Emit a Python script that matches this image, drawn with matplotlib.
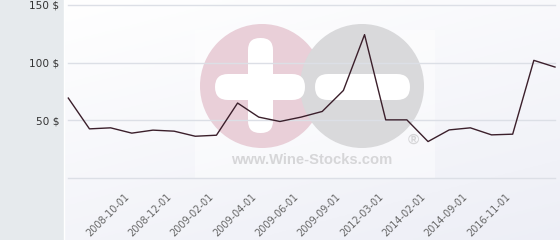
import numpy as np
import matplotlib
matplotlib.use('Agg')
import matplotlib.pyplot as plt
from matplotlib.patches import Circle, FancyBboxPatch, Rectangle
from matplotlib.transforms import ScaledTranslation

# price history (only some dates are labelled on the axis)
dates = ['2008-07-01', '2008-08-01', '2008-09-01', '2008-10-01', '2008-11-01',
         '2008-12-01', '2009-01-01', '2009-02-01', '2009-03-01', '2009-04-01',
         '2009-05-01', '2009-06-01', '2009-07-01', '2009-09-01', '2011-01-01',
         '2012-03-01', '2013-01-01', '2014-02-01', '2014-05-01', '2014-09-01',
         '2015-06-01', '2016-11-01', '2017-06-01', '2018-01-01']
prices = [69.3, 42.6, 43.5, 38.9, 41.5, 40.6, 36.2, 37.1, 65.0, 52.8,
          49.0, 52.8, 57.7, 75.9, 124.3, 50.4, 50.4, 31.6, 41.7, 43.5,
          37.4, 38.0, 102.0, 96.2]
shown_labels = ['2008-10-01', '2008-12-01', '2009-02-01', '2009-04-01', '2009-06-01',
                '2009-09-01', '2012-03-01', '2014-02-01', '2014-09-01', '2016-11-01']
y_ticks = [50, 100, 150]

W, H = 560, 240
fig = plt.figure(figsize=(W / 100, H / 100), dpi=100)
fig.patch.set_facecolor('white')

# background: light gradient + grey strip on the left
bg = fig.add_axes([0, 0, 1, 1])
bg.set_xlim(0, W)
bg.set_ylim(H, 0)
bg.axis('off')
gx = np.linspace(0, 1, 200)
gy = np.linspace(0, 1, 100)
grad = np.clip(0.35 * gx[None, :] + 0.65 * gy[:, None], 0, 1)
c0 = np.array([1.0, 1.0, 1.0])
c1 = np.array([0.93, 0.935, 0.965])
img = c0[None, None, :] * (1 - grad[..., None]) + c1[None, None, :] * grad[..., None]
bg.imshow(img, extent=[63, W, H, 0], aspect='auto', zorder=0)
bg.add_patch(Rectangle((0, 0), 63, H, color='#e6eaed', zorder=1))
bg.plot([63.5, 63.5], [0, H], color='white', lw=1, zorder=2)

# watermark
bg.add_patch(Rectangle((195, 30), 240, 148, color='white', alpha=0.45, lw=0, zorder=1))
bg.add_patch(Circle((262, 86), 62, color='#e9cfd8', lw=0, zorder=2))
bg.add_patch(Circle((362, 86), 62, color='#d9d9db', lw=0, zorder=3))
bg.add_patch(FancyBboxPatch((248, 38), 25, 95, boxstyle='round,pad=0,rounding_size=12',
                            color='white', lw=0, zorder=4))
bg.add_patch(FancyBboxPatch((215, 74), 90, 26, boxstyle='round,pad=0,rounding_size=13',
                            color='white', lw=0, zorder=4))
bg.add_patch(FancyBboxPatch((315, 74), 95, 26, boxstyle='round,pad=0,rounding_size=13',
                            color='white', lw=0, zorder=4))
bg.text(312, 160, 'www.Wine-Stocks.com', family='Liberation Sans', weight='bold',
        fontsize=10.6, color='#d6d6d8', ha='center', va='center', zorder=4)
bg.text(413, 140, '®', family='Liberation Sans', weight='bold',
        fontsize=11, color='#d6d6d8', ha='center', va='center', zorder=4)

# chart
ax = fig.add_axes([68.3 / W, 62 / H, (555 - 68.3) / W, (235 - 62) / H])
ax.patch.set_alpha(0)
x = np.arange(len(prices))
ax.plot(x, prices, color='#3b1f2b', lw=1, zorder=5, clip_on=False)
ax.set_xlim(0, len(prices) - 1)
ax.set_ylim(0, 150)

for v in [0] + y_ticks:
    ax.axhline(v, color='#dcdfe6', lw=1, zorder=1, clip_on=False)

for s in ax.spines.values():
    s.set_visible(False)

ax.set_yticks(y_ticks)
ax.set_yticklabels([f'{v} $' for v in y_ticks], fontsize=7.6, color='#333333')
ax.tick_params(axis='y', length=0, pad=6.5)

ax.set_xticks([dates.index(d) for d in shown_labels])
ax.set_xticklabels(shown_labels, rotation=45, ha='right', va='baseline',
                   rotation_mode='anchor', fontsize=7, color='#666666')
ax.tick_params(axis='x', length=0, pad=13.7)
shift = ScaledTranslation(-2 / 100, 0, fig.dpi_scale_trans)
for lbl in ax.get_xticklabels():
    lbl.set_transform(lbl.get_transform() + shift)

fig.savefig('out.png', dpi=100)
